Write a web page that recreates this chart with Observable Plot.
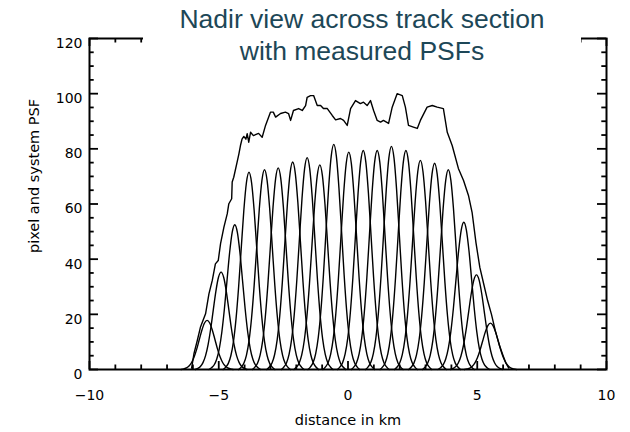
<!DOCTYPE html>
<html><head><meta charset="utf-8">
<script src="https://cdn.jsdelivr.net/npm/d3@7"></script>
<script src="https://cdn.jsdelivr.net/npm/@observablehq/plot@0.6"></script>
<style>
body{margin:0;background:#fff;}
#wrap{position:relative;width:630px;height:432px;overflow:hidden;}
#title{position:absolute;left:143px;top:0;width:438px;height:72px;background:#fff;color:#1d4757;font-family:"Liberation Sans",Arial,sans-serif;font-size:26.5px;line-height:32px;text-align:center;padding-top:3px;box-sizing:border-box;}
</style></head><body>
<div id="wrap"><div id="chart"></div><div id="title">Nadir view across track section<br>with measured PSFs</div></div>
<script>
// tick values
const xTicksMajor = [-10, -5, 0, 5, 10];
const xTicksMinor = [-9, -8, -7, -6, -4, -3, -2, -1, 1, 2, 3, 4, 6, 7, 8, 9];
const yTicksMajor = [0, 20, 40, 60, 80, 100, 120];
const yTicksMinor = [5, 10, 15, 25, 30, 35, 45, 50, 55, 65, 70, 75, 85, 90, 95, 105, 110, 115];

// measured PSF peaks (km, value)
const psfCenters = [-5.45, -4.91, -4.38, -3.83, -3.23, -2.70, -2.14, -1.58, -1.09, -0.55, 0.03, 0.59, 1.13, 1.68, 2.24, 2.80, 3.35, 3.88, 4.48, 4.97, 5.51];
const psfPeaks   = [17.8, 35.3, 52.5, 71.5, 72.4, 73.1, 75.2, 76.8, 74.2, 81.6, 78.8, 79.4, 79.4, 80.9, 79.4, 75.8, 74.8, 72.4, 53.4, 34.3, 16.8];
// PSF profile (offset in km from the peak, fraction of peak)
const psfOffsets = [-1.0, -0.9, -0.8, -0.7, -0.6, -0.5, -0.4, -0.3, -0.2, -0.1, 0, 0.1, 0.2, 0.3, 0.4, 0.5, 0.6, 0.7, 0.8, 0.9, 1.0];
const psfShape   = [0.0, 0.012, 0.031, 0.071, 0.143, 0.259, 0.421, 0.615, 0.806, 0.947, 1, 0.947, 0.806, 0.615, 0.421, 0.259, 0.143, 0.071, 0.031, 0.012, 0.0];

// pixel (system) response envelope
const envX = [-6.05, -5.96, -5.83, -5.71, -5.51, -5.38, -5.25, -5.13, -5.02, -4.93, -4.80, -4.67, -4.61, -4.50, -4.48, -4.42, -4.29, -4.22, -4.16, -4.10, -4.03, -3.95, -3.90, -3.84, -3.77, -3.66, -3.46, -3.32, -3.19, -3.00, -2.89, -2.80, -2.61, -2.42, -2.30, -2.22, -2.11, -1.91, -1.77, -1.64, -1.58, -1.45, -1.33, -1.19, -1.06, -0.95, -0.80, -0.61, -0.48, -0.29, -0.17, -0.03, 0.10, 0.29, 0.48, 0.60, 0.74, 0.87, 0.99, 1.13, 1.26, 1.37, 1.57, 1.71, 1.90, 2.10, 2.22, 2.34, 2.53, 2.68, 2.80, 3.06, 3.26, 3.45, 3.69, 3.84, 4.03, 4.27, 4.47, 4.66, 4.80, 4.95, 5.10, 5.25, 5.40, 5.55, 5.70, 5.85, 6.00, 6.10, 6.22];
const envY = [0.5, 5.7, 10.5, 15.3, 20.2, 27.4, 32.3, 38.3, 39.5, 45.6, 51.6, 56.5, 60.1, 61.9, 68.0, 69.7, 75.2, 78.2, 81.2, 83.5, 84.5, 83.5, 85.5, 82.4, 86.0, 84.8, 85.6, 84.2, 88.5, 93.3, 93.3, 91.5, 92.8, 93.3, 92.8, 90.3, 93.9, 94.6, 93.9, 95.7, 98.7, 99.3, 99.3, 95.7, 95.7, 94.6, 94.6, 92.1, 90.5, 91.0, 90.3, 88.5, 94.6, 97.5, 96.4, 96.9, 95.7, 97.5, 93.9, 90.3, 89.7, 90.3, 89.2, 95.1, 100.0, 99.3, 95.1, 88.5, 87.9, 87.4, 90.3, 95.1, 95.7, 95.1, 94.6, 86.0, 81.2, 72.9, 68.5, 63.1, 57.0, 46.0, 37.0, 31.0, 25.0, 20.0, 14.0, 9.0, 5.0, 2.5, 0.5];

const psfRows = psfCenters.flatMap((c, i) => psfOffsets.map((o, j) => ({id: i, x: c + o, y: psfPeaks[i] * psfShape[j]})));
const envRows = envX.map((x, i) => ({x, y: envY[i]}));

const W = 630, H = 432, mL = 89, mR = 24, mT = 38, mB = 63;
const fw = W - mL - mR, fh = H - mT - mB;
const ink = "#000";

const chart = Plot.plot({
  width: W, height: H,
  marginLeft: mL, marginRight: mR, marginTop: mT, marginBottom: mB,
  x: {domain: [-10, 10]},
  y: {domain: [0, 120]},
  style: {fontFamily: "'DejaVu Sans', sans-serif", fontSize: "14px", color: ink, background: "#fff"},
  marks: [
    Plot.line(psfRows, {x: "x", y: "y", z: "id", stroke: ink, strokeWidth: 1.4, curve: "monotone-x"}),
    Plot.line(envRows, {x: "x", y: "y", stroke: ink, strokeWidth: 1.4}),
    // inward ticks, bottom/top
    Plot.tickX(xTicksMajor, {x: d => d, insetTop: fh - 8, stroke: ink, strokeWidth: 1.8}),
    Plot.tickX(xTicksMajor, {x: d => d, insetBottom: fh - 8, stroke: ink, strokeWidth: 1.8}),
    Plot.tickX(xTicksMinor, {x: d => d, insetTop: fh - 4.5, stroke: ink, strokeWidth: 1.8}),
    Plot.tickX(xTicksMinor, {x: d => d, insetBottom: fh - 4.5, stroke: ink, strokeWidth: 1.8}),
    // inward ticks, left/right
    Plot.tickY(yTicksMajor, {y: d => d, insetRight: fw - 9, stroke: ink, strokeWidth: 1.8}),
    Plot.tickY(yTicksMajor, {y: d => d, insetLeft: fw - 9, stroke: ink, strokeWidth: 1.8}),
    Plot.tickY(yTicksMinor, {y: d => d, insetRight: fw - 4.7, stroke: ink, strokeWidth: 1.8}),
    Plot.tickY(yTicksMinor, {y: d => d, insetLeft: fw - 4.7, stroke: ink, strokeWidth: 1.8}),
    Plot.frame({stroke: ink, strokeWidth: 2}),
    Plot.axisX(xTicksMajor, {tickSize: 0, tickPadding: 21, label: null}),
    Plot.axisY(yTicksMajor, {tickSize: 0, tickPadding: 7, dy: 5, label: null}),
    Plot.text(["distance in km"], {frameAnchor: "bottom", dy: 55, fontSize: 14.5, textAnchor: "middle"}),
    Plot.text(["pixel and system PSF"], {frameAnchor: "left", dx: -55, dy: -28, rotate: -90, fontSize: 14.5, textAnchor: "middle"})
  ]
});
document.getElementById("chart").appendChild(chart);
</script>
</body></html>
